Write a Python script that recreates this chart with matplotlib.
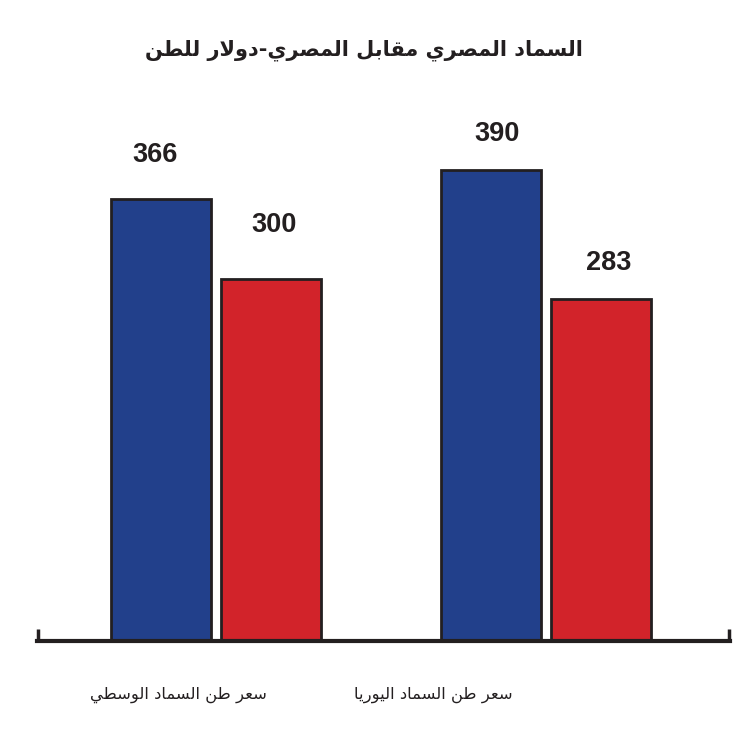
import numpy as np
import matplotlib
matplotlib.use("Agg")
import matplotlib.pyplot as plt

# data
groups = ["سعر طن السماد الوسطي", "سعر طن السماد اليوريا"]
blue_vals = [366, 390]
red_vals = [300, 283]
title = "السماد المصري مقابل المصري-دولار للطن"

BLUE = "#22408B"
RED = "#D2232A"
INK = "#231F20"

# minimal arabic shaping (presentation forms) since matplotlib has no bidi
FORMS = {
    "ا": ("\uFE8D", "\uFE8E", None, None),
    "ب": ("\uFE8F", "\uFE90", "\uFE91", "\uFE92"),
    "د": ("\uFEA9", "\uFEAA", None, None),
    "ر": ("\uFEAD", "\uFEAE", None, None),
    "س": ("\uFEB1", "\uFEB2", "\uFEB3", "\uFEB4"),
    "ص": ("\uFEB9", "\uFEBA", "\uFEBB", "\uFEBC"),
    "ط": ("\uFEC1", "\uFEC2", "\uFEC3", "\uFEC4"),
    "ع": ("\uFEC9", "\uFECA", "\uFECB", "\uFECC"),
    "ق": ("\uFED5", "\uFED6", "\uFED7", "\uFED8"),
    "ل": ("\uFEDD", "\uFEDE", "\uFEDF", "\uFEE0"),
    "م": ("\uFEE1", "\uFEE2", "\uFEE3", "\uFEE4"),
    "ن": ("\uFEE5", "\uFEE6", "\uFEE7", "\uFEE8"),
    "و": ("\uFEED", "\uFEEE", None, None),
    "ي": ("\uFEF1", "\uFEF2", "\uFEF3", "\uFEF4"),
}


def shape_ar(s):
    glyphs = []
    i = 0
    while i < len(s):
        if s[i] == "ل" and i + 1 < len(s) and s[i + 1] == "ا":
            glyphs.append("LA")
            i += 2
        else:
            glyphs.append(s[i])
            i += 1

    def dual(g):
        return g in FORMS and FORMS[g][2] is not None

    def arabic(g):
        return g in FORMS or g == "LA"

    out = []
    for k, g in enumerate(glyphs):
        prev_joins = k > 0 and dual(glyphs[k - 1])
        next_ok = k + 1 < len(glyphs) and arabic(glyphs[k + 1])
        if g == "LA":
            out.append("\uFEFC" if prev_joins else "\uFEFB")
            continue
        if g not in FORMS:
            out.append(g)
            continue
        iso, fin, ini, med = FORMS[g]
        if ini is not None and next_ok:
            out.append(med if prev_joins else ini)
        else:
            out.append(fin if prev_joins else iso)
    return "".join(reversed(out))


W, H = 740, 731
fig = plt.figure(figsize=(W / 100, H / 100), dpi=100)
base_y = 641
ax = fig.add_axes([37 / W, (H - base_y) / H, (730 - 37) / W, base_y / H])

x = np.arange(len(groups))
spacing = 330.0
width = 100 / spacing
off = 55 / spacing

b1 = ax.bar(x - off, blue_vals, width, color=BLUE, edgecolor=INK, linewidth=2, zorder=2)
b2 = ax.bar(x + off, red_vals, width, color=RED, edgecolor=INK, linewidth=2, zorder=2)

# value labels sit a little loosely above each bar in the original (px offsets)
lab_off = {(0, 0): (-6, 31), (0, 1): (6, 23), (1, 0): (3, 41), (1, 1): (8, 23)}
for si, bars in enumerate((b1, b2)):
    for gi, rect in enumerate(bars):
        dx, dy = lab_off[(si, gi)]
        ax.annotate(f"{rect.get_height():.0f}",
                    (rect.get_x() + rect.get_width() / 2, rect.get_height()),
                    xytext=(dx * 0.72, dy * 0.72), textcoords="offset points",
                    ha="center", va="bottom", fontsize=19.5, fontweight="bold",
                    family="Liberation Sans", color=INK)

xmin = (37 - 216) / spacing
xmax = (730 - 216) / spacing
ax.set_xlim(xmin, xmax)
ax.set_ylim(0, base_y / 1.208)

for s in ("top", "left", "right"):
    ax.spines[s].set_visible(False)
ax.spines["bottom"].set_linewidth(3)
ax.spines["bottom"].set_color(INK)
ax.set_yticks([])
ax.set_xticks([xmin + 0.004, xmax - 0.004])
ax.set_xticklabels([])
ax.tick_params(axis="x", direction="in", length=9, width=2.5, color=INK)

# category labels under the axis
label_cx = [178, 433]
for lab, xc in zip(groups, label_cx):
    fig.text(xc / W, 1 - 695 / H, shape_ar(lab), ha="center", va="center",
             fontsize=11.8, family="DejaVu Sans", color=INK)

fig.text(364 / W, 1 - 50 / H, shape_ar(title), ha="center", va="center",
         fontsize=15, fontweight="bold", family="DejaVu Sans", color=INK)

fig.savefig("out.png", dpi=100)
